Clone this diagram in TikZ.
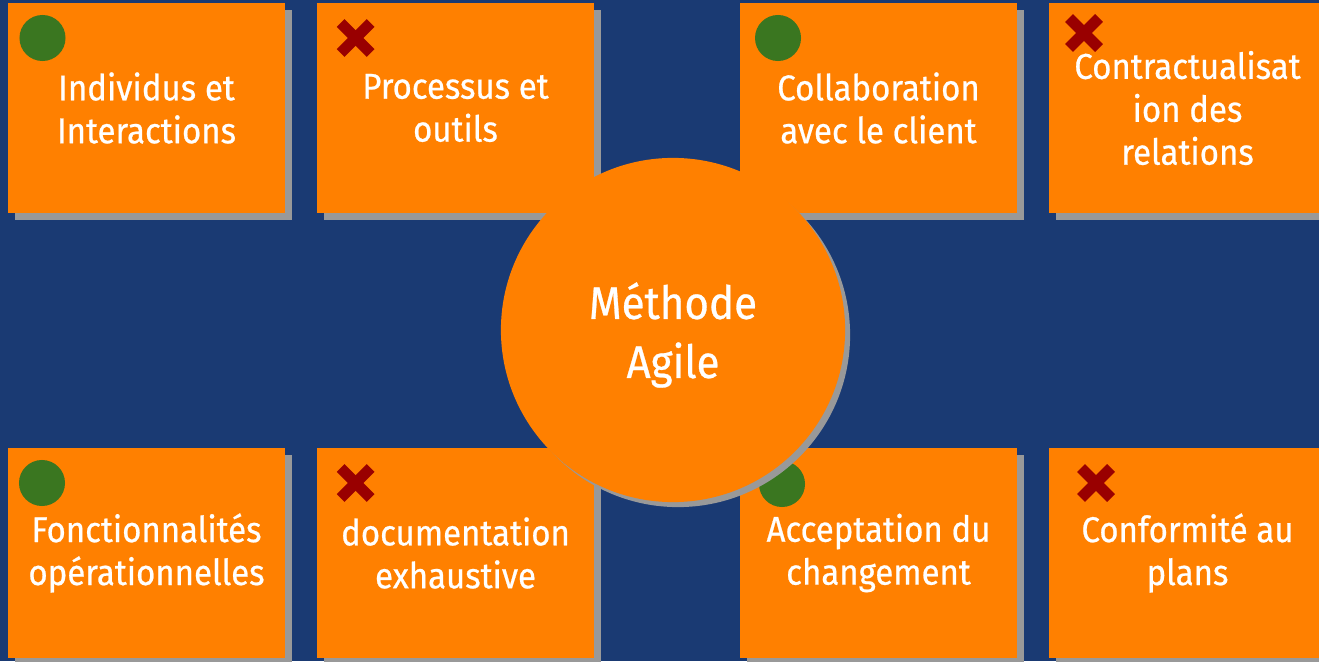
\documentclass[tikz,border=0pt]{standalone}
\usepackage{fontspec}
\setmainfont{Fira Sans}[FakeStretch=0.92, FakeBold=0.6]
\usetikzlibrary{shadows}

\definecolor{agileblue}{HTML}{1A3A73}
\definecolor{agileorange}{HTML}{FF8000}
\definecolor{agilegreen}{HTML}{3A7620}
\definecolor{agilered}{HTML}{990000}
\definecolor{agileshadow}{HTML}{999999}

\tikzset{
    valuebox/.style={rectangle, fill=agileorange, text=white, align=center,
        minimum width=2.77cm, minimum height=2.09cm, inner sep=0pt,
        font=\fontsize{10.2pt}{12.2pt}\selectfont,
        drop shadow={shadow xshift=0.07cm, shadow yshift=-0.07cm, fill=agileshadow, opacity=1}},
    okdot/.style={circle, fill=agilegreen, minimum size=0.46cm, inner sep=0pt},
    nocross/.style={draw=agilered, line width=0.11cm, line cap=butt}
}

\begin{document}
\begin{tikzpicture}[x=0.01cm, y=-0.01cm]
        \useasboundingbox (0,0) rectangle (1319,661);
        \clip (0,0) rectangle (1319,661);
        \fill[agileblue] (0,0) rectangle (1319,661);

        % top row
        \node[valuebox] (individus) at (146.5, 108) {Individus et\\Interactions};
        \node[valuebox] (processus) at (455.5, 108) {Processus et\\outils};
        \node[valuebox] (collaboration) at (878.5, 108) {Collaboration\\avec le client};
        \node[valuebox] (contrat) at (1187.5, 108) {Contractualisat\\ion des\\relations};

        % bottom row
        \node[valuebox] (fonctions) at (146.5, 553) {Fonctionnalités\\opérationnelles};
        \node[valuebox] (documentation) at (455.5, 553) {documentation\\exhaustive};
        \node[valuebox] (changement) at (878.5, 553) {Acceptation du\\changement};
        \node[valuebox] (plans) at (1187.5, 553) {Conformité au\\plans};

        % marks
        \node[okdot] (ok1) at (42.5, 38) {};
        \node[okdot] (ok2) at (778, 38) {};
        \node[okdot] (ok3) at (42, 483) {};
        \node[okdot] (ok4) at (782, 484) {};

        \coordinate (no1) at (355.7, 38);
        \coordinate (no2) at (1084, 33);
        \coordinate (no3) at (355.7, 483);
        \coordinate (no4) at (1096, 483);
        \foreach \c in {no1, no2, no3, no4} {
            \draw[nocross] ([shift={(-15,-15)}]\c) -- ([shift={(15,15)}]\c);
            \draw[nocross] ([shift={(-15,15)}]\c) -- ([shift={(15,-15)}]\c);
        }

        % centre
        \node[circle, fill=agileorange, minimum size=3.44cm, inner sep=0pt,
              drop shadow={shadow xshift=0.05cm, shadow yshift=-0.05cm, fill=agileshadow, opacity=1},
              label={[text=white, align=center, yshift=-0.05cm,
                      font=\fontsize{13pt}{16.8pt}\selectfont]center:Méthode\\Agile}]
              (agile) at (673, 330) {};

    \end{tikzpicture}
\end{document}
